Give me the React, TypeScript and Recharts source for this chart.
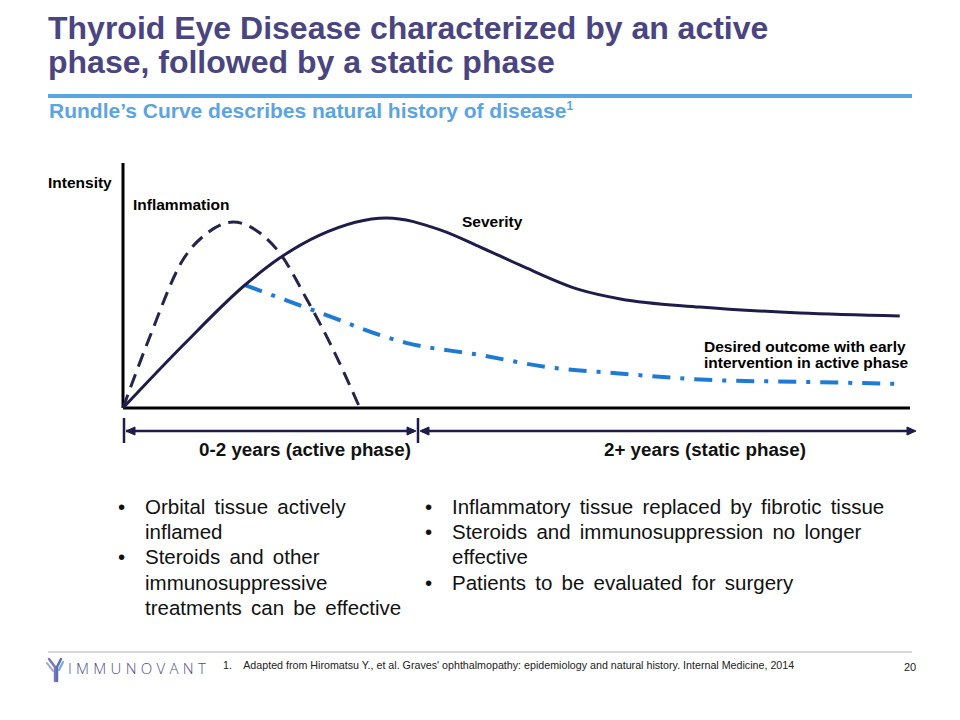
import { Line, LineChart, ReferenceLine, XAxis, YAxis } from "recharts";

const severityX = [0, 7.75, 15.5, 19.9, 25.0, 33.5, 40.3, 45.4, 50.4, 58.1, 63.2, 73.3, 86.0, 98.7];
const severityY = [0, 26.0, 50.2, 61.2, 70.6, 77.6, 72.7, 65.7, 58.4, 48.2, 44.5, 41.2, 38.8, 37.6];

const inflammationX = [0, 3.4, 7.6, 10.7, 14.0, 17.4, 19.9, 23.4, 26.3, 30.1];
const inflammationY = [0, 29.0, 60.4, 71.4, 75.9, 71.4, 63.3, 44.1, 26.5, 0];

const desiredX = [15.5, 24.1, 36.1, 45.4, 53.9, 62.3, 75.0, 87.7, 98.7];
const desiredY = [50.2, 40.0, 26.5, 21.6, 16.7, 14.3, 11.4, 10.6, 9.8];

const leftBullets = [
  ["Orbital tissue actively", "inflamed"],
  ["Steroids and other", "immunosuppressive", "treatments can be effective"],
];
const rightBullets = [
  ["Inflammatory tissue replaced by fibrotic tissue"],
  ["Steroids and immunosuppression no longer", "effective"],
  ["Patients to be evaluated for surgery"],
];

const toPoints = (xs: number[], ys: number[]) => xs.map((x, i) => ({ x, y: ys[i] }));

const sans = '"Liberation Sans", Arial, sans-serif';

function Bullets({ items, left, top }: { items: string[][]; left: number; top: number }) {
  return (
    <div style={{ position: "absolute", left, top, fontFamily: sans, fontSize: 20.5, lineHeight: "25.2px", color: "#111" }}>
      {items.map((lines, i) => (
        <div key={i} style={{ position: "relative", paddingLeft: 27 }}>
          <span style={{ position: "absolute", left: 0 }}>•</span>
          {lines.map((l, j) => (
            <div key={j} style={{ whiteSpace: "nowrap", wordSpacing: 3.5 }}>{l}</div>
          ))}
        </div>
      ))}
    </div>
  );
}

const label = { position: "absolute" as const, fontFamily: sans, fontWeight: 700, fontSize: 15.5, color: "#000", whiteSpace: "nowrap" as const };

export default function App() {
  const navy = "#1f1c4a";
  return (
    <div style={{ position: "absolute", left: 0, top: 0, width: 960, height: 720, background: "#fff", overflow: "hidden" }}>
      <div style={{ position: "absolute", left: 48, top: 11, fontFamily: sans, fontWeight: 700, fontSize: 32, lineHeight: "34px", color: "#4a4581", whiteSpace: "nowrap" }}>
        <div>Thyroid Eye Disease characterized by an active</div>
        <div>phase, followed by a static phase</div>
      </div>
      <div style={{ position: "absolute", left: 48, top: 94, width: 864, height: 4, background: "#5aa5e4" }} />
      <div style={{ position: "absolute", left: 49, top: 99, fontFamily: sans, fontWeight: 700, fontSize: 21, color: "#5ba4e2", whiteSpace: "nowrap" }}>
        Rundle’s Curve describes natural history of disease<sup style={{ fontSize: 12 }}>1</sup>
      </div>

      <div style={{ position: "absolute", left: 0, top: 0 }}>
        <LineChart width={960} height={720} margin={{ top: 163, right: 50, bottom: 312, left: 123 }}>
          <XAxis type="number" dataKey="x" domain={[0, 100]} hide />
          <YAxis type="number" dataKey="y" domain={[0, 100]} hide />
          <ReferenceLine y={0} stroke="#000" strokeWidth={3} />
          <ReferenceLine x={0} stroke="#000" strokeWidth={3} />
          <Line data={toPoints(inflammationX, inflammationY)} dataKey="y" type="monotone" stroke="#25244c" strokeWidth={3} strokeDasharray="14 8" dot={false} isAnimationActive={false} />
          <Line data={toPoints(desiredX, desiredY)} dataKey="y" type="monotone" stroke="#1f7ad3" strokeWidth={4} strokeDasharray="18 10 4 10" dot={false} isAnimationActive={false} />
          <Line data={toPoints(severityX, severityY)} dataKey="y" type="monotone" stroke={navy} strokeWidth={3} dot={false} isAnimationActive={false} />
        </LineChart>
      </div>

      <div style={{ ...label, left: 48, top: 174 }}>Intensity</div>
      <div style={{ ...label, left: 133, top: 196 }}>Inflammation</div>
      <div style={{ ...label, left: 462, top: 213 }}>Severity</div>
      <div style={{ ...label, lineHeight: "16px", left: 704, top: 339 }}>
        <div>Desired outcome with early</div>
        <div>intervention in active phase</div>
      </div>

      <svg style={{ position: "absolute", left: 0, top: 0 }} width={960} height={720}>
        <g stroke={navy} strokeWidth={2.5} fill={navy}>
          <line x1={124} y1={418} x2={124} y2={443} />
          <line x1={418} y1={418} x2={418} y2={443} />
          <line x1={126} y1={431} x2={414} y2={431} />
          <line x1={422} y1={431} x2={910} y2={431} />
          <path d="M126 431 L135 427 L135 435 Z" strokeWidth={1} />
          <path d="M416 431 L407 427 L407 435 Z" strokeWidth={1} />
          <path d="M420 431 L429 427 L429 435 Z" strokeWidth={1} />
          <path d="M916 431 L907 427 L907 435 Z" strokeWidth={1} />
        </g>
        <line x1={48} y1={652} x2={912} y2={652} stroke="#c8c8c8" strokeWidth={1.5} />
        <g fill="none" strokeLinecap="round">
          <path d="M49 659 L55 667 L55 681" stroke="#7b78b5" strokeWidth={2.5} />
          <path d="M61 659 L57 667 L57 681" stroke="#5b6fb8" strokeWidth={2.5} />
          <path d="M47 663 L53 671" stroke="#9aa4d8" strokeWidth={2} />
          <path d="M63 662 L59 670" stroke="#6fa6dd" strokeWidth={2} />
        </g>
      </svg>

      <div style={{ position: "absolute", left: 190, top: 439, width: 230, textAlign: "center", fontFamily: sans, fontWeight: 700, fontSize: 18.8, color: "#111", whiteSpace: "nowrap" }}>0-2 years (active phase)</div>
      <div style={{ position: "absolute", left: 590, top: 439, width: 230, textAlign: "center", fontFamily: sans, fontWeight: 700, fontSize: 18.8, color: "#111", whiteSpace: "nowrap" }}>2+ years (static phase)</div>

      <Bullets items={leftBullets} left={118} top={494} />
      <Bullets items={rightBullets} left={425} top={494} />

      <div style={{ position: "absolute", left: 68, top: 658, fontFamily: '"Open Sans", sans-serif', fontWeight: 300, fontSize: 15, letterSpacing: 4.3, color: "#4f4c8a" }}>IMMUNOVANT</div>
      <div style={{ position: "absolute", left: 223, top: 659, fontFamily: sans, fontSize: 10.7, color: "#222", whiteSpace: "nowrap" }}>
        1.&nbsp;&nbsp;&nbsp; Adapted from Hiromatsu Y., et al. Graves' ophthalmopathy: epidemiology and natural history. Internal Medicine, 2014
      </div>
      <div style={{ position: "absolute", left: 904, top: 661, fontFamily: sans, fontSize: 11, color: "#222" }}>20</div>
    </div>
  );
}
